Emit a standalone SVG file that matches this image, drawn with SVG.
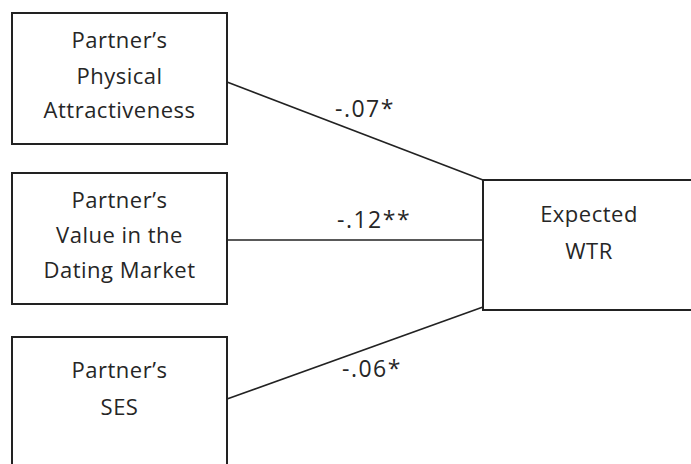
<svg xmlns="http://www.w3.org/2000/svg" width="691" height="464" viewBox="0 0 691 464">
<style>
.box{fill:#fff;stroke:#222;stroke-width:2}
.t{font-family:"Open Sans","Noto Sans",sans-serif;font-size:22px;letter-spacing:0.5px;fill:#262626;text-anchor:middle}
.lbl{font-family:"Open Sans","Noto Sans",sans-serif;font-size:23px;letter-spacing:1.5px;fill:#262626}
.c{stroke:#222;stroke-width:1.6;fill:none}
</style>
<rect width="691" height="464" fill="#fff"/>
<g id="connectors">
<line class="c" x1="227" y1="82" x2="483" y2="180"/>
<line class="c" x1="227" y1="240" x2="484" y2="240"/>
<line class="c" x1="227" y1="399" x2="483" y2="307"/>
<text class="lbl" x="335" y="117">-.07*</text>
<text class="lbl" x="337" y="228">-.12**</text>
<text class="lbl" x="342" y="377">-.06*</text>
</g>
<g id="n1">
<rect class="box" x="12" y="13" width="215" height="131"/>
<text class="t" x="119.5" y="48">Partner’s</text>
<text class="t" x="119.5" y="84">Physical</text>
<text class="t" x="119.5" y="118">Attractiveness</text>
</g>
<g id="n2">
<rect class="box" x="12" y="173" width="215" height="131"/>
<text class="t" x="119.5" y="208">Partner’s</text>
<text class="t" x="119.5" y="243">Value in the</text>
<text class="t" x="119.5" y="278">Dating Market</text>
</g>
<g id="n3">
<rect class="box" x="12" y="337" width="215" height="140"/>
<text class="t" x="119.5" y="378">Partner’s</text>
<text class="t" x="119.5" y="415">SES</text>
</g>
<g id="n4">
<rect class="box" x="483" y="180" width="220" height="130"/>
<text class="t" x="589" y="222">Expected</text>
<text class="t" x="589" y="259">WTR</text>
</g>
</svg>
